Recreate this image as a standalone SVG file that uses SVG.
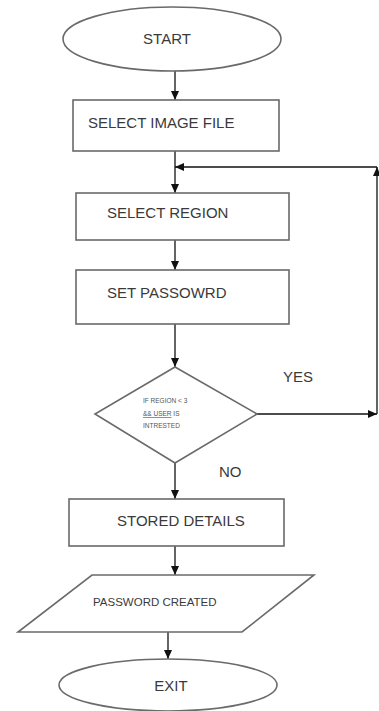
<svg xmlns="http://www.w3.org/2000/svg" width="379" height="711" viewBox="0 0 379 711">
<defs>
<marker id="ah" markerUnits="userSpaceOnUse" markerWidth="9" markerHeight="8" refX="9" refY="4" orient="auto">
<path d="M0,0 L9,4 L0,8 z" fill="#111"/>
</marker>
<style>
.shape{fill:#fff;stroke:#6a6a6a;stroke-width:1.6}
.lbl{font-family:"Liberation Sans",Arial,sans-serif;font-size:15px;fill:#3a3a3a}
.sm{font-family:"Liberation Sans",Arial,sans-serif;font-size:6.5px;fill:#555}
.conn{stroke:#111;stroke-width:1.3;fill:none;marker-end:url(#ah)}
</style>
</defs>
<rect width="379" height="711" fill="#fff"/>
<g id="connectors">
<path class="conn" d="M175,71 L175,100"/>
<path class="conn" d="M175,151 L175,193"/>
<path class="conn" d="M175,240 L175,270"/>
<path class="conn" d="M175,324 L175,367"/>
<path class="conn" d="M257,414 L377,414"/>
<path class="conn" d="M377,414 L377,167"/>
<path class="conn" d="M377,167 L175,167"/>
<path class="conn" d="M175,463 L175,499"/>
<path class="conn" d="M175,546 L175,575"/>
<path class="conn" d="M168,620 L168,659"/>
</g>
<g id="start">
<ellipse class="shape" cx="172" cy="39" rx="109" ry="32"/>
<text class="lbl" x="167" y="44" text-anchor="middle">START</text>
</g>
<g id="select-image">
<rect class="shape" x="73" y="100" width="206" height="51"/>
<text class="lbl" x="88" y="128">SELECT IMAGE FILE</text>
</g>
<g id="select-region">
<rect class="shape" x="76" y="193" width="213" height="47"/>
<text class="lbl" x="107" y="218">SELECT REGION</text>
</g>
<g id="set-password">
<rect class="shape" x="76" y="270" width="213" height="54"/>
<text class="lbl" x="107" y="298">SET PASSOWRD</text>
</g>
<g id="decision">
<polygon class="shape" points="175,367 257,414 175,463 95,414"/>
<text class="sm" x="143" y="403">IF REGION &lt; 3</text>
<text class="sm" x="143" y="416"><tspan text-decoration="underline">&amp;&amp; USER</tspan> IS</text>
<text class="sm" x="143" y="428">INTRESTED</text>
</g>
<g id="labels">
<text class="lbl" x="283" y="382">YES</text>
<text class="lbl" x="219" y="477">NO</text>
</g>
<g id="stored">
<rect class="shape" x="69" y="499" width="215" height="47"/>
<text class="lbl" x="117" y="526">STORED DETAILS</text>
</g>
<g id="password-created">
<polygon class="shape" points="92,575 314,575 242,632 18,632"/>
<text class="lbl" x="93" y="606" style="font-size:11.5px">PASSWORD CREATED</text>
</g>
<g id="exit">
<ellipse class="shape" cx="168" cy="685" rx="109" ry="26"/>
<text class="lbl" x="171" y="691" text-anchor="middle">EXIT</text>
</g>
</svg>
